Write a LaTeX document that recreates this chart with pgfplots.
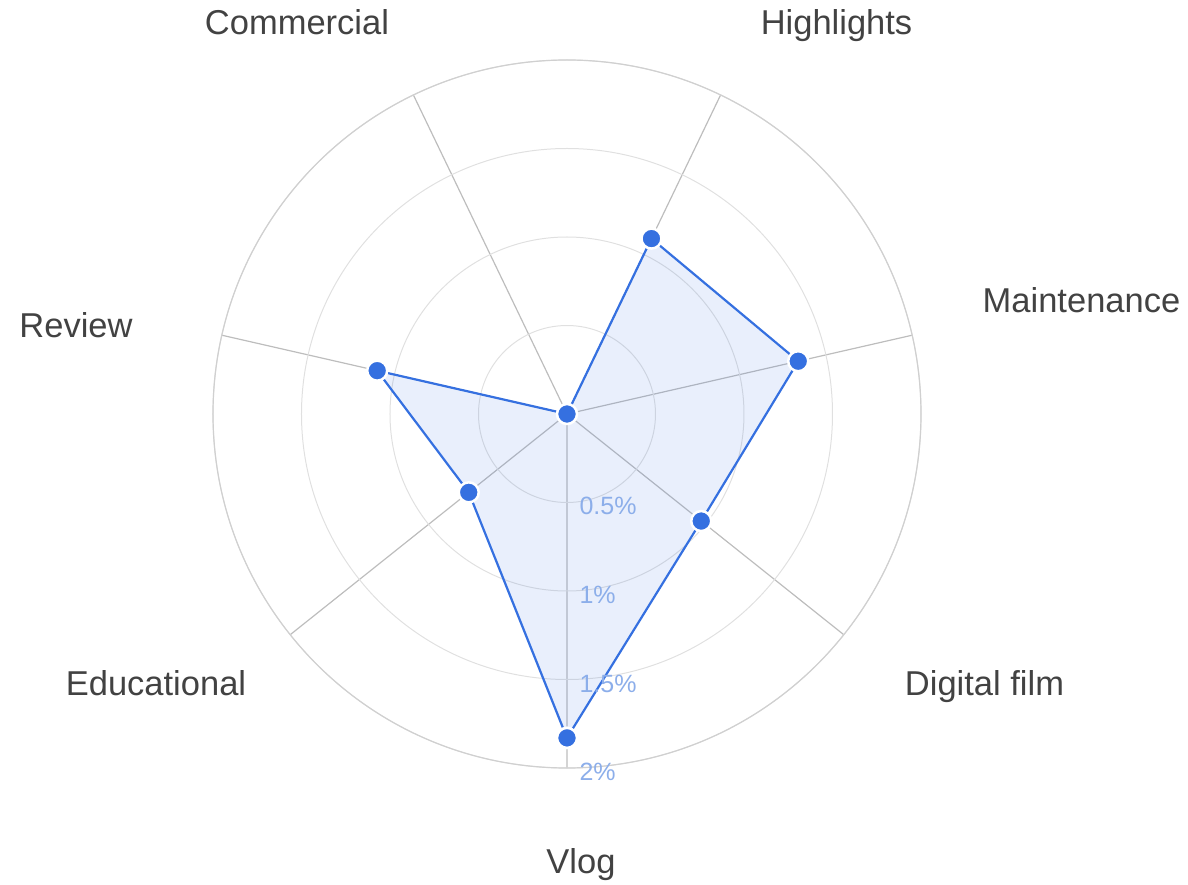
\documentclass[border=0pt]{standalone}
\usepackage{fontspec}
\setmainfont{Liberation Sans}
\usepackage{pgfplots}
\pgfplotsset{compat=1.18}
\usepgfplotslibrary{polar}
\definecolor{series}{HTML}{3570E0}
\definecolor{spoke}{HTML}{BDBDBD}
\definecolor{ring}{HTML}{E0E0E0}
\definecolor{rim}{HTML}{D0D0D0}
\definecolor{lbl}{HTML}{424242}
\definecolor{rlbl}{HTML}{8CAEEA}
\tikzset{cat/.style={anchor=base, text=lbl, font=\fontsize{34.5}{38}\selectfont},
         rad/.style={anchor=base west, xshift=9pt, yshift=-12.5pt, text=rlbl, font=\fontsize{25}{25}\selectfont}}
\begin{document}
\begin{tikzpicture}
\begin{polaraxis}[
  scale only axis, width=708pt, height=708pt,
  ymin=0, ymax=2,
  xtick={270,321.43,12.86,64.29,115.71,167.14,218.57},
  xticklabel=\empty,
  ytick={0.5,1,1.5,2},
  yticklabel=\empty,
  major tick length=0pt,
  xmajorgrids, ymajorgrids,
  x grid style={spoke, line width=1.2pt},
  y grid style={ring, line width=1pt},
  separate axis lines,
  x axis line style={rim, line width=1.2pt},
  y axis line style={draw=none},
  clip=false,
]
\addplot[series, line width=2.2pt, line join=round, fill=series, fill opacity=0.11,
  mark=*, mark size=10pt,
  mark options={fill=series, draw=white, line width=2.5pt, fill opacity=1}]
  coordinates {(270,1.83) (321.43,0.97) (372.86,1.34) (424.29,1.10)
               (475.71,0) (527.14,1.10) (578.57,0.71) (630,1.83)};
\coordinate (O) at (axis cs:0,0);
% radial value labels
\node[rad] at (axis cs:270,0.5) {0.5\%};
\node[rad] at (axis cs:270,1) {1\%};
\node[rad] at (axis cs:270,1.5) {1.5\%};
\node[rad] at (axis cs:270,2) {2\%};
% category labels
\node[cat, xshift=14pt, yshift=-459pt] at (axis cs:0,0) {Vlog};
\node[cat, xshift=417.5pt, yshift=-281pt] at (axis cs:0,0) {Digital film};
\node[cat, xshift=514.5pt, yshift=101pt] at (axis cs:0,0) {Maintenance};
\node[cat, xshift=269.5pt, yshift=379pt] at (axis cs:0,0) {Highlights};
\node[cat, xshift=-270pt, yshift=379pt] at (axis cs:0,0) {Commercial};
\node[cat, xshift=-491pt, yshift=76pt] at (axis cs:0,0) {Review};
\node[cat, xshift=-411pt, yshift=-281pt] at (axis cs:0,0) {Educational};
\end{polaraxis}
\pgfresetboundingbox
\path[use as bounding box] ([shift={(-567pt,414pt)}]O) rectangle ([shift={(621pt,-471pt)}]O);
\end{tikzpicture}
\end{document}
